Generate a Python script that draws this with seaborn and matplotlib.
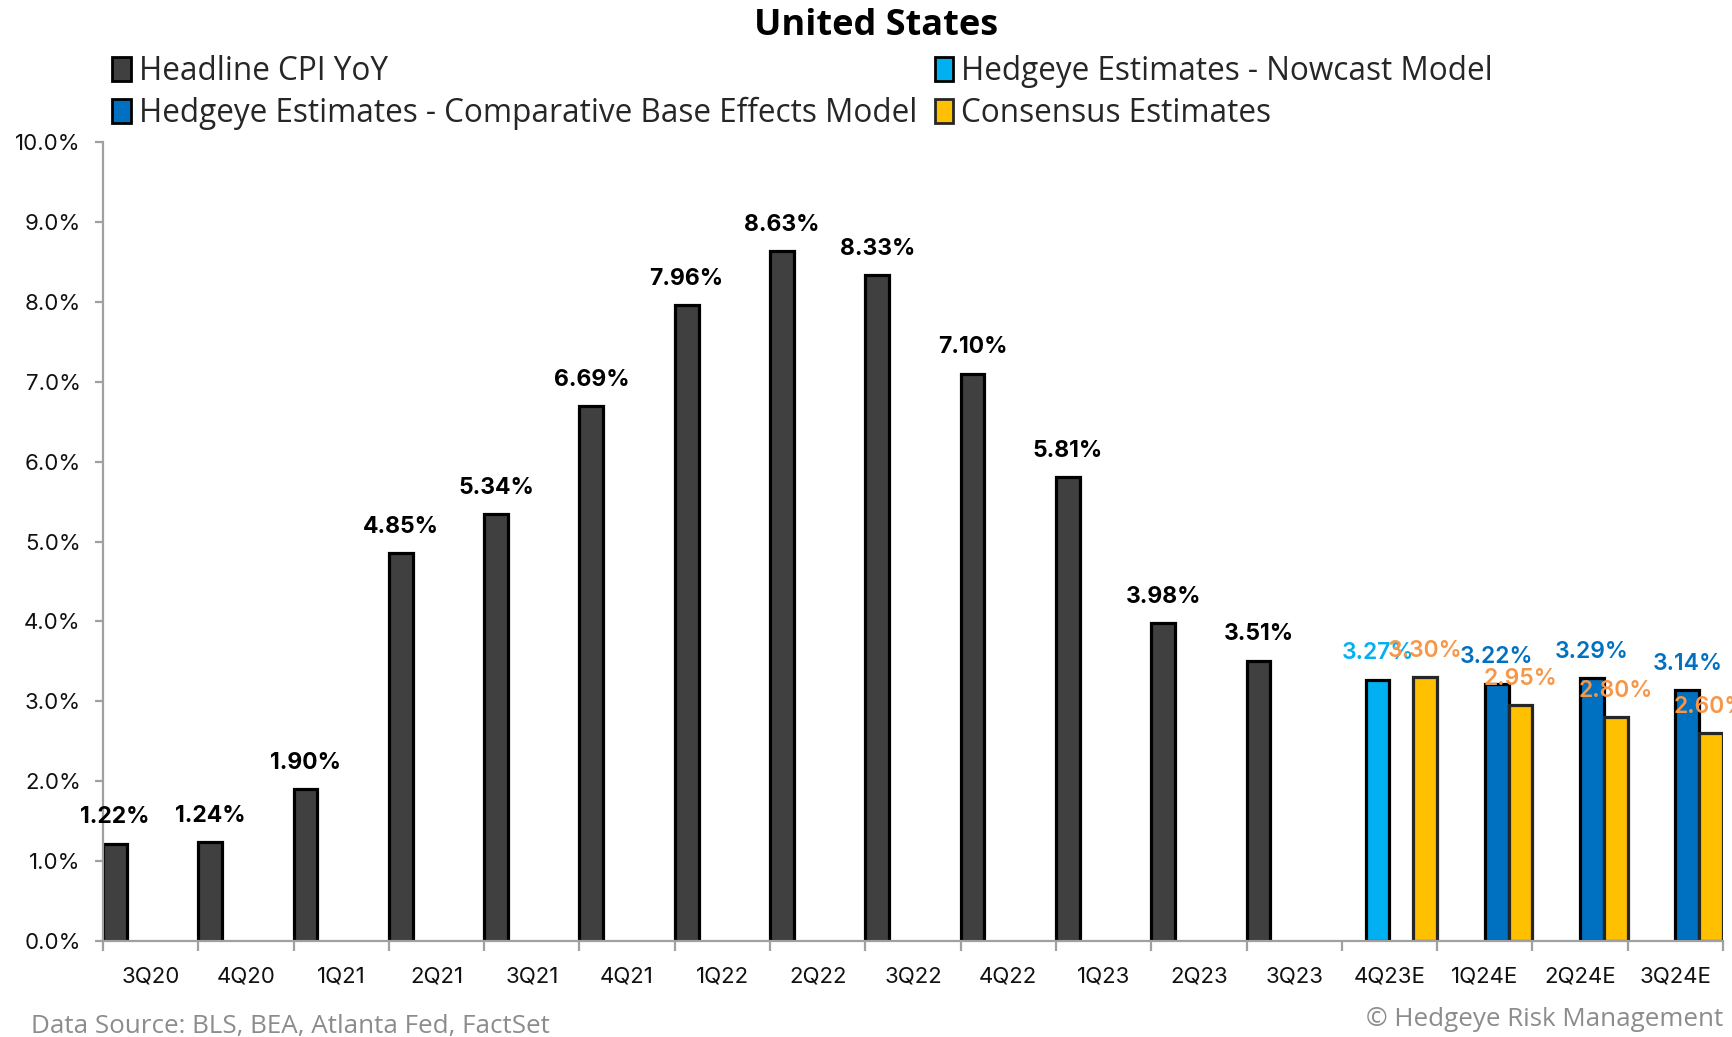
import numpy as np
import pandas as pd
import matplotlib
matplotlib.use("Agg")
import matplotlib.pyplot as plt
from matplotlib.patches import Patch
from matplotlib.ticker import FixedLocator, PercentFormatter
import seaborn as sns

# Quarterly headline CPI (YoY %) and forward estimates
quarters = ["3Q20", "4Q20", "1Q21", "2Q21", "3Q21", "4Q21", "1Q22", "2Q22", "3Q22",
            "4Q22", "1Q23", "2Q23", "3Q23", "4Q23E", "1Q24E", "2Q24E", "3Q24E"]
headline = [1.22, 1.24, 1.90, 4.85, 5.34, 6.69, 7.96, 8.63, 8.33, 7.10, 5.81, 3.98, 3.51,
            np.nan, np.nan, np.nan, np.nan]
nowcast = [np.nan] * 13 + [3.27, np.nan, np.nan, np.nan]
base_effects = [np.nan] * 13 + [np.nan, 3.22, 3.29, 3.14]
consensus = [np.nan] * 13 + [3.30, 2.95, 2.80, 2.60]

series_names = ["Headline CPI YoY",
                "Hedgeye Estimates - Nowcast Model",
                "Hedgeye Estimates - Comparative Base Effects Model",
                "Consensus Estimates"]
fills = ["#404040", "#00B0F0", "#0070C0", "#FFC000"]
edges = ["#000000", "#000000", "#000000", "#262626"]
label_colors = ["#000000", "#00B0F0", "#0070C0", "#F79646"]

df = pd.DataFrame({"quarter": quarters,
                   series_names[0]: headline,
                   series_names[1]: nowcast,
                   series_names[2]: base_effects,
                   series_names[3]: consensus})
long = df.melt(id_vars="quarter", var_name="series", value_name="value").dropna()

sns.set_theme(style="white")
plt.rcParams["font.family"] = ["Inter", "DejaVu Sans"]
text_font = ["Open Sans", "DejaVu Sans"]

fig = plt.figure(figsize=(17.32, 10.37), dpi=100)
ax = fig.add_axes([103 / 1732, 1 - 941 / 1037, (1723 - 103) / 1732, (941 - 142) / 1037])

sns.barplot(data=long, x="quarter", y="value", hue="series",
            order=quarters, hue_order=series_names, palette=fills,
            width=1.0, dodge=True, saturation=1, legend=False, ax=ax,
            errorbar=None)

for cont, ec, lc, name in zip(ax.containers, edges, label_colors, series_names):
    for bar in cont:
        bar.set_edgecolor(ec)
        bar.set_linewidth(2.3)
    weight = "bold" if name == series_names[0] else "semibold"
    ax.bar_label(cont, fmt="{:.2f}%", padding=11, color=lc,
                 fontsize=16.5, fontweight=weight)

ax.set_xlim(-0.5, len(quarters) - 0.5)
ax.set_ylim(0, 10)
ax.set_xlabel("")
ax.set_ylabel("")

ax.yaxis.set_major_locator(FixedLocator(np.arange(0, 10.01, 1.0)))
ax.yaxis.set_major_formatter(PercentFormatter(decimals=1))
ax.set_xticks(np.arange(len(quarters)))
ax.set_xticklabels(quarters)
ax.set_xticks(np.arange(len(quarters) + 1) - 0.5, minor=True)

spine_color = "#A0A0A0"
for side in ["top", "right"]:
    ax.spines[side].set_visible(False)
for side in ["left", "bottom"]:
    ax.spines[side].set_color(spine_color)
    ax.spines[side].set_linewidth(1.6)

ax.tick_params(axis="y", which="major", left=True, length=6, width=1.6,
               color=spine_color, labelsize=16, labelcolor="#111111", pad=10)
ax.tick_params(axis="x", which="major", bottom=False, length=0,
               labelsize=16, labelcolor="#111111", pad=18)
ax.tick_params(axis="x", which="minor", bottom=True, length=7, width=1.6,
               color=spine_color)
ax.grid(False)

fig.text(876 / 1732, 1 - 26 / 1037, "United States", ha="center", va="center",
         fontsize=26, fontweight="bold", family=text_font, color="#000000")

handles = [Patch(facecolor=f, edgecolor=e, linewidth=2.0) for f, e in zip(fills, edges)]
order = [0, 2, 1, 3]
fig.legend([handles[i] for i in order], [series_names[i] for i in order],
           loc="upper left", bbox_to_anchor=(112 / 1732, 1 - 55 / 1037),
           ncol=2, frameon=False, borderpad=0, borderaxespad=0,
           handlelength=0.6, handleheight=0.8, handletextpad=0.25,
           columnspacing=0.55, labelspacing=0.28,
           prop={"family": text_font, "size": 22.7})

fig.text(31 / 1732, 1 - 1027 / 1037, "Data Source: BLS, BEA, Atlanta Fed, FactSet",
         ha="left", va="center", fontsize=18.7, color="#8C8C8C", family=text_font)
fig.text(1723 / 1732, 1 - 1020 / 1037, "\u00a9 Hedgeye Risk Management",
         ha="right", va="center", fontsize=18.7, color="#8C8C8C", family=text_font)

fig.savefig("out.png", dpi=100)
